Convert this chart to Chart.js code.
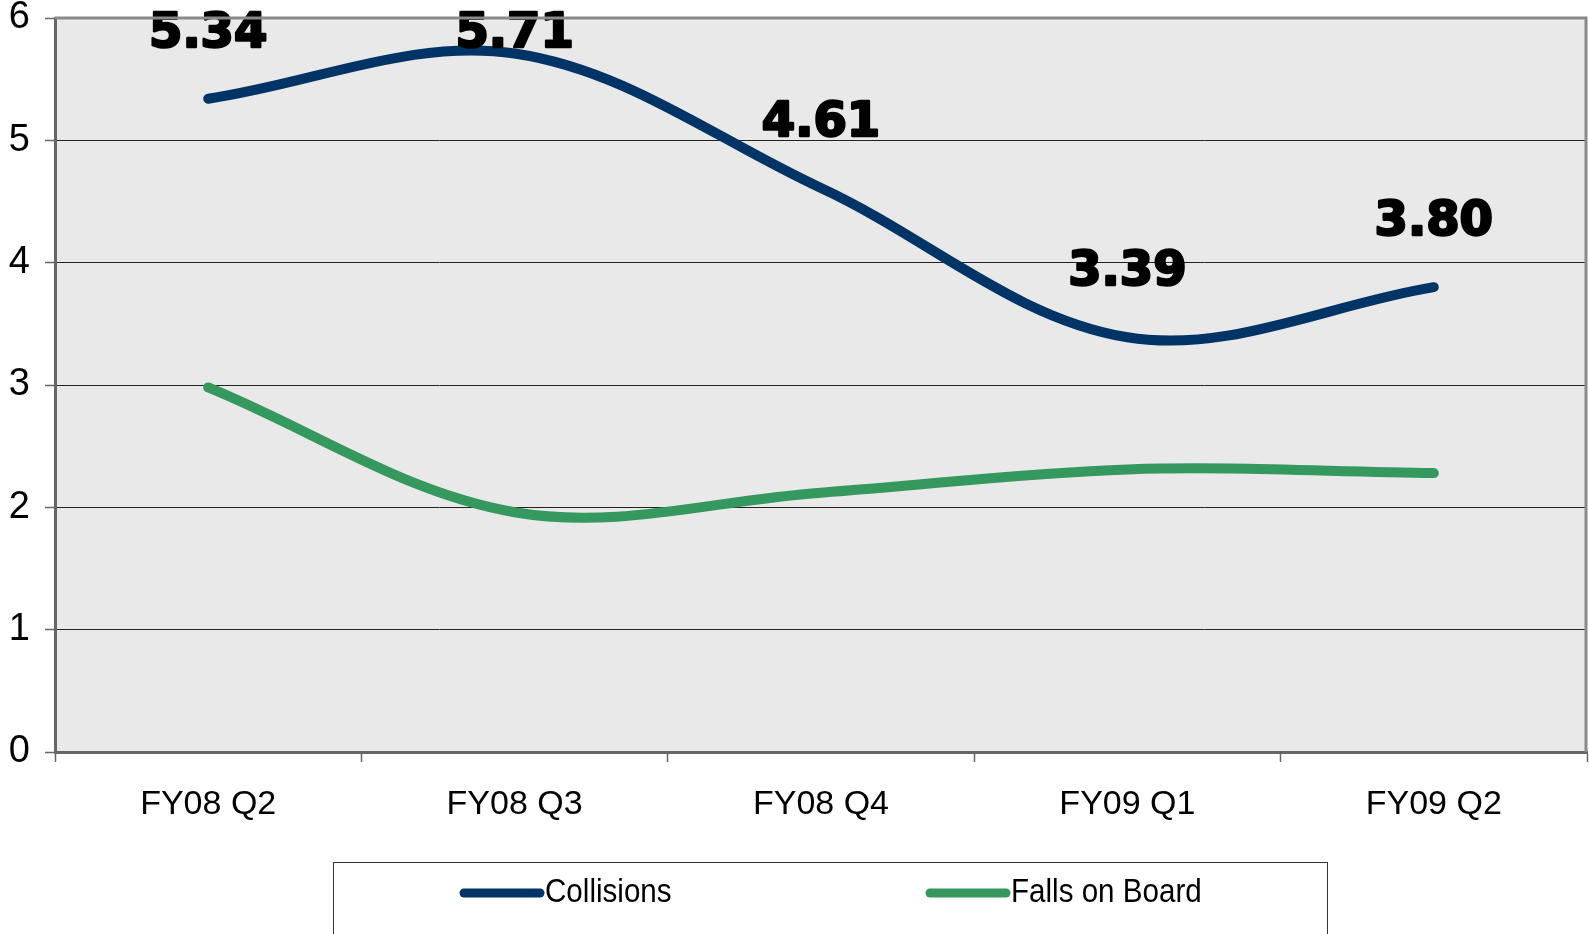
<!DOCTYPE html>
<html>
<head>
<meta charset="utf-8">
<script src="https://cdn.jsdelivr.net/npm/chart.js@4.4.1/dist/chart.umd.min.js"></script>
<style>
  html, body { margin: 0; padding: 0; background: #fff; }
  #wrap { width: 1589px; height: 934px; }
</style>
</head>
<body>
<div id="wrap"><canvas id="chart" width="1589" height="934"></canvas></div>
<script>
const quarters = ["FY08 Q2", "FY08 Q3", "FY08 Q4", "FY09 Q1", "FY09 Q2"];
const collisions = [5.34, 5.71, 4.61, 3.39, 3.80];
const fallsOnBoard = [2.98, 1.96, 2.12, 2.31, 2.28];
const yTicks = [0, 1, 2, 3, 4, 5, 6];

const navy = "#003366";
const green = "#35985f";

// grey plot area plus the grey top/right frame
const plotFrame = {
  id: "plotFrame",
  beforeDraw(chart) {
    const { ctx, chartArea: a } = chart;
    ctx.save();
    ctx.fillStyle = "#e9e9e9";
    ctx.fillRect(a.left, a.top, a.right - a.left, a.bottom - a.top);
    ctx.restore();
  },
  afterDraw(chart) {
    const { ctx, chartArea: a } = chart;
    ctx.save();
    ctx.strokeStyle = "#8a8a8a";
    ctx.lineWidth = 3;
    ctx.beginPath();
    ctx.moveTo(a.left, a.top);
    ctx.lineTo(a.right - 1, a.top);
    ctx.lineTo(a.right - 1, a.bottom);
    ctx.stroke();
    ctx.restore();
  }
};

// heavy value labels above the collisions line
const valueLabels = {
  id: "valueLabels",
  afterDatasetsDraw(chart) {
    const { ctx } = chart;
    const meta = chart.getDatasetMeta(0);
    ctx.save();
    ctx.font = "bold 48px 'DejaVu Sans'";
    ctx.fillStyle = "#000";
    ctx.strokeStyle = "#000";
    ctx.lineWidth = 2.5;
    ctx.lineJoin = "round";
    ctx.textAlign = "center";
    ctx.textBaseline = "middle";
    meta.data.forEach((pt, i) => {
      const y = Math.max(pt.y - 65, 35);
      const txt = collisions[i].toFixed(2);
      ctx.strokeText(txt, pt.x, y);
      ctx.fillText(txt, pt.x, y);
    });
    ctx.restore();
  }
};

// boxed legend at the bottom
const boxLegend = {
  id: "boxLegend",
  afterDraw(chart) {
    const { ctx } = chart;
    ctx.save();
    ctx.strokeStyle = "#333";
    ctx.lineWidth = 1;
    ctx.strokeRect(333.5, 862.5, 994, 100);
    const items = [
      { x: 464, ds: chart.data.datasets[0] },
      { x: 930, ds: chart.data.datasets[1] }
    ];
    const y = 893;
    items.forEach((it) => {
      ctx.strokeStyle = it.ds.borderColor;
      ctx.lineWidth = 9;
      ctx.lineCap = "round";
      ctx.beginPath();
      ctx.moveTo(it.x, y);
      ctx.lineTo(it.x + 76, y);
      ctx.stroke();
      ctx.save();
      ctx.translate(it.x + 81, y);
      ctx.scale(0.87, 1);
      ctx.font = "34px 'Liberation Sans'";
      ctx.textBaseline = "middle";
      ctx.textAlign = "left";
      ctx.fillStyle = "#000";
      ctx.fillText(it.ds.label, 0, 0);
      ctx.restore();
    });
    ctx.restore();
  }
};

const ctx = document.getElementById("chart").getContext("2d");

new Chart(ctx, {
  type: "line",
  data: {
    labels: quarters,
    datasets: [
      {
        label: "Collisions",
        data: collisions,
        borderColor: navy,
        borderWidth: 10,
        borderCapStyle: "round",
        borderJoinStyle: "round",
        tension: 0.35,
        pointRadius: 0,
        fill: false,
      },
      {
        label: "Falls on Board",
        data: fallsOnBoard,
        borderColor: green,
        borderWidth: 10,
        borderCapStyle: "round",
        borderJoinStyle: "round",
        tension: 0.35,
        pointRadius: 0,
        fill: false,
      },
    ],
  },
  options: {
    responsive: false,
    animation: false,
    layout: { padding: { top: 18, right: 2, left: 0, bottom: 0 } },
    plugins: {
      legend: { display: false },
      tooltip: { enabled: false },
    },
    scales: {
      x: {
        offset: true,
        afterFit: (s) => { s.height = 182; },
        grid: {
          offset: true,
          drawOnChartArea: false,
          tickLength: 10,
          tickColor: "#666",
          tickWidth: 1.5,
        },
        border: { color: "#666", width: 3 },
        ticks: {
          color: "#000",
          padding: 22,
          maxRotation: 0,
          font: { family: "'Liberation Sans', Arial", size: 34 },
        },
      },
      y: {
        min: 0,
        max: 6,
        afterFit: (s) => {
          s.width = 55;
          s.paddingTop = 0;
          s.paddingBottom = 0;
        },
        afterBuildTicks: (s) => { s.ticks = yTicks.map((v) => ({ value: v })); },
        grid: {
          color: (c) => (c.tick && (c.tick.value === 0 || c.tick.value === 6) ? "rgba(0,0,0,0)" : "#222"),
          lineWidth: 1,
          tickLength: 10,
          tickColor: "#666",
          tickWidth: 1.5,
        },
        border: { color: "#666", width: 3 },
        ticks: {
          color: "#000",
          padding: 15,
          font: { family: "'Liberation Sans', Arial", size: 38 },
        },
      },
    },
  },
  plugins: [plotFrame, valueLabels, boxLegend],
});
</script>
</body>
</html>
